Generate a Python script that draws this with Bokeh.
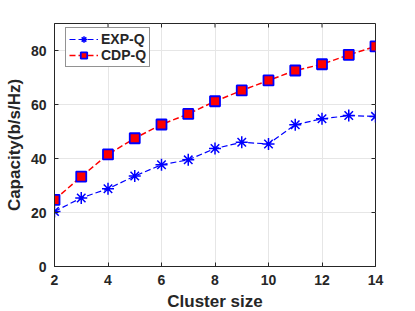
import math
from bokeh.plotting import figure
from bokeh.models import Range1d, FixedTicker, Legend, LegendItem
from bokeh.embed import file_html
from bokeh.resources import INLINE

cluster_size = [2, 3, 4, 5, 6, 7, 8, 9, 10, 11, 12, 13, 14]
exp_q = [20.4, 25.4, 28.8, 33.5, 37.7, 39.5, 43.7, 46.0, 45.4, 52.5, 54.7, 55.9, 55.6]
cdp_q = [24.7, 33.3, 41.5, 47.5, 52.6, 56.5, 61.2, 65.2, 68.9, 72.6, 74.9, 78.4, 81.5]
x_ticks = [2, 4, 6, 8, 10, 12, 14]
y_ticks = [0, 20, 40, 60, 80]
x_min, x_max = 2, 14
y_min, y_max = 0, 90

FONT = "Liberation Sans"
AX = "#262626"

p = figure(frame_width=321, frame_height=243, output_backend="svg", toolbar_location=None,
           x_range=Range1d(x_min, x_max), y_range=Range1d(y_min, y_max),
           min_border_left=54, min_border_top=23, min_border_right=20, min_border_bottom=5,
           background_fill_color="white", border_fill_color="white")
p.outline_line_color = AX
p.outline_line_width = 1

for ax in p.axis:
    ax.major_label_text_font = FONT
    ax.major_label_text_font_style = "bold"
    ax.major_label_text_font_size = "14px"
    ax.major_label_text_color = AX
    ax.axis_label_text_font = FONT
    ax.axis_label_text_font_style = "bold"
    ax.axis_label_text_font_size = "17px"
    ax.axis_label_text_color = AX
    ax.axis_line_color = AX
    ax.major_tick_line_color = AX
    ax.major_tick_in = 4
    ax.major_tick_out = 0
    ax.minor_tick_line_color = None
    ax.major_label_standoff = 8

p.xaxis.ticker = FixedTicker(ticks=x_ticks)
p.yaxis.ticker = FixedTicker(ticks=y_ticks)
p.xaxis.axis_label = "Cluster size"
p.yaxis.axis_label = "Capacity(b/s/Hz)"
p.xaxis.axis_label_standoff = 4
p.yaxis.axis_label_standoff = 4

p.xgrid.ticker = FixedTicker(ticks=x_ticks)
p.ygrid.ticker = FixedTicker(ticks=y_ticks)
p.grid.grid_line_color = "#e6e6e6"
p.grid.grid_line_width = 1

# inward ticks on top and right edges (box like the reference)
p.ray(x=x_ticks, y=[y_max] * len(x_ticks), length=4, length_units="screen",
      angle=-math.pi / 2, line_color=AX, line_width=1)
p.ray(x=[x_max] * len(y_ticks), y=y_ticks, length=4, length_units="screen",
      angle=math.pi, line_color=AX, line_width=1)

r1 = p.line(cluster_size, exp_q, line_color="blue", line_dash="6 3", line_width=1.2)
s1 = p.scatter(cluster_size, exp_q, marker="asterisk", size=12, line_color="blue", line_width=1.5)
r2 = p.line(cluster_size, cdp_q, line_color="red", line_dash="6 3", line_width=1.5)
s2 = p.scatter(cluster_size, cdp_q, marker="square", size=10, fill_color="red", line_color="blue", line_width=1.8)

legend = Legend(items=[LegendItem(label="EXP-Q", renderers=[r1, s1]),
                       LegendItem(label="CDP-Q", renderers=[r2, s2])],
                location=(11, 199))
legend.label_text_font = FONT
legend.label_text_font_style = "bold"
legend.label_text_font_size = "14px"
legend.label_text_color = AX
legend.border_line_color = AX
legend.border_line_width = 1
legend.glyph_width = 29
legend.glyph_height = 16
legend.label_height = 16
legend.label_standoff = 3
legend.padding = 3
legend.spacing = 0
legend.margin = 0
p.add_layout(legend)

open("out.html", "w").write(file_html(p, INLINE))
